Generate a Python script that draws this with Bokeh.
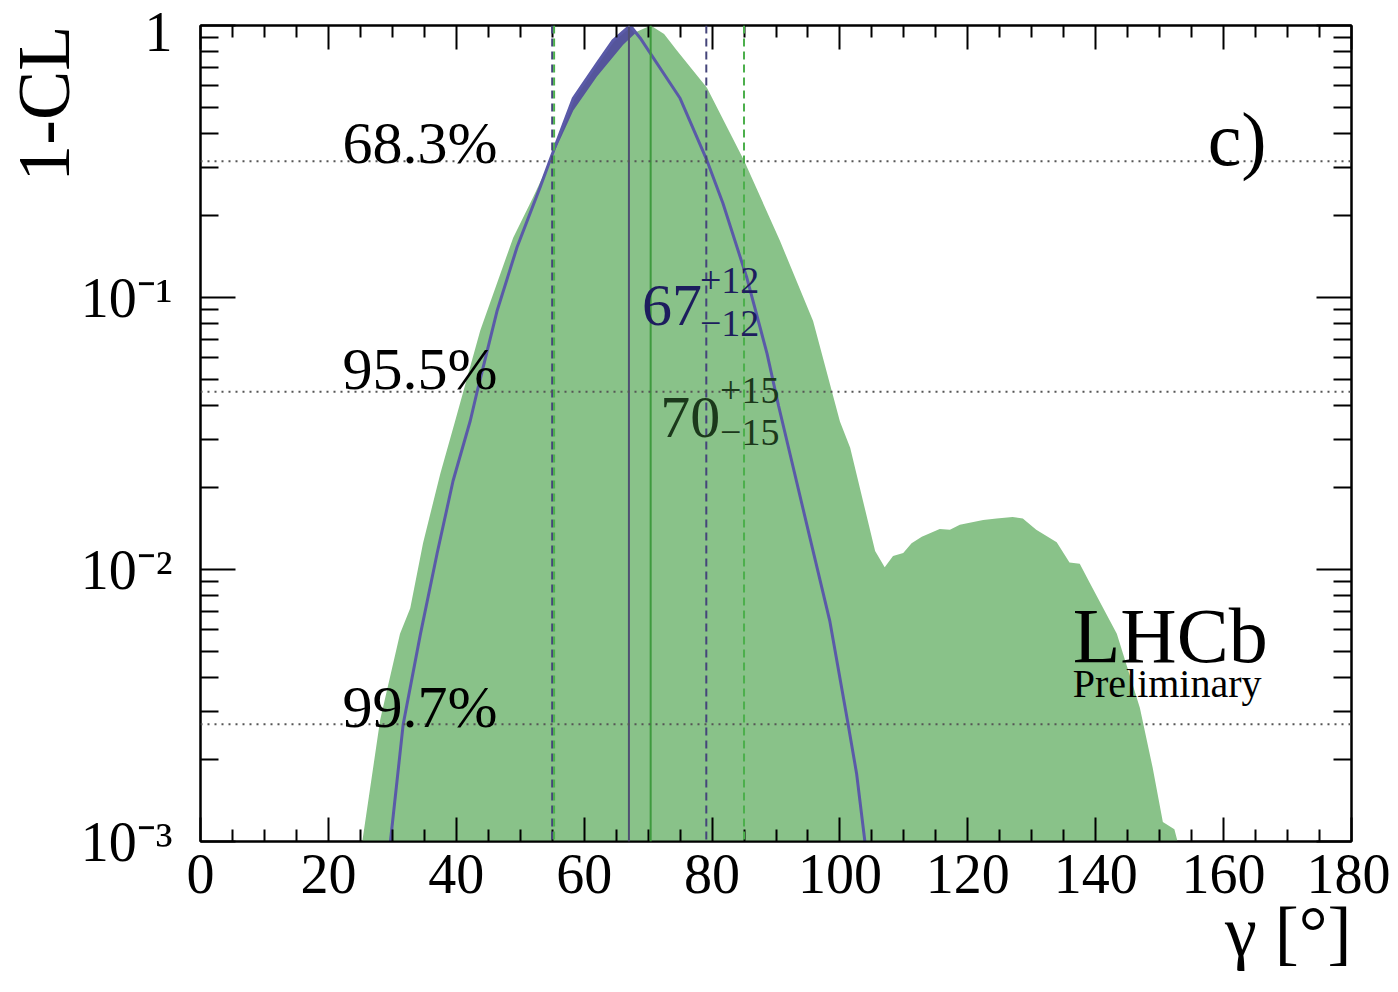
import math
from bokeh.plotting import figure
from bokeh.models import Range1d, FixedTicker, LinearAxis, LogAxis, Label, Span, Title
from bokeh.embed import file_html
from bokeh.resources import INLINE

# ---------------- data ----------------
green_x = [25.3, 28.1, 31.2, 32.8, 34.8, 37.5, 39.8, 43.75, 48.9, 52.0, 55.2, 58.3,
           62.0, 66.1, 68.3, 70.4, 72.5, 74.5, 79.2, 85.0, 90.6, 95.8, 100.0, 101.6,
           103.6, 105.5, 107.0, 108.3, 109.9, 111.2, 112.8, 115.6, 117.2, 118.75,
           122.4, 124.5, 127.0, 128.6, 130.7, 133.9, 135.9, 137.5, 139.1, 143.3,
           146.9, 148.9, 150.5, 152.3, 152.8]
green_y = [0.001, 0.0028, 0.0058, 0.0072, 0.0125, 0.0225, 0.035, 0.0756, 0.166, 0.233,
           0.338, 0.487, 0.65, 0.85, 0.95, 1.0, 0.93, 0.81, 0.59, 0.319, 0.162, 0.082,
           0.035, 0.028, 0.0179, 0.0117, 0.0102, 0.0112, 0.0115, 0.0125, 0.0132,
           0.0141, 0.0140, 0.0146, 0.0152, 0.0154, 0.0156, 0.0154, 0.0140, 0.0126,
           0.0106, 0.0105, 0.0089, 0.0058, 0.0031, 0.00187, 0.00118, 0.00111, 0.001]

blue_x = [29.7, 31.7, 34.4, 37.0, 39.5, 42.2, 43.3, 46.4, 49.5, 53.1, 55.8, 58.3, 62.0,
          64.5, 67.2, 68.75, 75.0, 79.2, 81.7, 85.4, 88.6, 90.4, 95.3, 98.4, 101.25,
          102.6, 103.9]
blue_y = [0.001, 0.0027, 0.0058, 0.01145, 0.0212, 0.0353, 0.0455, 0.0896, 0.153, 0.254,
          0.378, 0.54, 0.725, 0.88, 1.0, 0.90, 0.54, 0.319, 0.222, 0.119, 0.0622, 0.040,
          0.0131, 0.00649, 0.00272, 0.00178, 0.001]

cl_levels = [0.317, 0.045, 0.0027]
cl_labels = ["68.3%", "95.5%", "99.7%"]

blue_central = 67.0
blue_interval = [55.0, 79.1]
green_central = 70.4
green_interval = [55.3, 85.0]

x_ticks = list(range(0, 181, 20))
x_minor = [v for v in range(0, 181, 5) if v % 20]
y_ticks = [0.001, 0.01, 0.1, 1.0]
y_tick_labels = {0.001: "10\u207b\u00b3", 0.01: "10\u207b\u00b2", 0.1: "10\u207b\u00b9", 1.0: "1"}
y_minor = [m * 10.0 ** e for e in (-3, -2, -1) for m in range(2, 10)]
y_min, y_max = 0.001, 1.0

FONT = "Liberation Serif"
GREEN_FILL = "#89c289"
BLUE_FILL = "#55559b"
BLUE_LINE = "#5a5aa8"

p = figure(frame_width=1151, frame_height=816,
           x_range=Range1d(0, 180), y_range=Range1d(y_min, y_max),
           y_axis_type="log", output_backend="svg", toolbar_location=None,
           min_border_left=200, min_border_right=39, min_border_top=25,
           min_border_bottom=143)
p.grid.visible = False
p.outline_line_color = "black"
p.outline_line_width = 2
p.background_fill_color = "white"
p.border_fill_color = "white"


def style(ax, major, minor):
    ax.axis_line_width = 2
    ax.axis_line_color = "black"
    ax.major_tick_line_width = 2
    ax.minor_tick_line_width = 2
    ax.major_tick_line_color = "black"
    ax.minor_tick_line_color = "black"
    ax.major_tick_in = major
    ax.major_tick_out = 0
    ax.minor_tick_in = minor
    ax.minor_tick_out = 0
    ax.major_label_text_font = FONT
    ax.major_label_text_font_size = "56px"
    ax.major_label_text_color = "black"


xb = p.xaxis[0]
xb.ticker = FixedTicker(ticks=x_ticks, minor_ticks=x_minor)
style(xb, 24, 12)
xb.major_label_standoff = 13

yl = p.yaxis[0]
yl.ticker = FixedTicker(ticks=y_ticks, minor_ticks=y_minor)
style(yl, 35, 18)
yl.major_label_overrides = y_tick_labels
yl.major_label_standoff = 28

top = LinearAxis(ticker=FixedTicker(ticks=x_ticks, minor_ticks=x_minor))
style(top, 24, 12)
top.major_label_overrides = {t: "" for t in x_ticks}
top.major_label_text_font_size = "1px"
p.add_layout(top, "above")

right = LogAxis(ticker=FixedTicker(ticks=y_ticks, minor_ticks=y_minor))
style(right, 35, 18)
right.major_label_overrides = {t: "" for t in y_ticks}
right.major_label_text_font_size = "1px"
p.add_layout(right, "right")

# axis titles, ROOT style (aligned to the far end of each axis)
p.add_layout(Title(text="1-CL", align="right", text_font=FONT, text_font_size="74px",
                   text_font_style="normal", text_color="black", standoff=-14), "left")
p.add_layout(Title(text="\u03b3 [\u00b0]", align="right", text_font=FONT, text_font_size="72px",
                   text_font_style="normal", text_color="black", standoff=-12), "below")

# ---------------- curves ----------------
p.varea(x=blue_x, y1=y_min, y2=blue_y, fill_color=BLUE_FILL)
p.varea(x=green_x, y1=y_min, y2=green_y, fill_color=GREEN_FILL)

# vertical lines: central values and 1 sigma intervals
p.add_layout(Span(location=blue_central, dimension="height", line_color="#4f4f72", line_width=2))
p.add_layout(Span(location=green_central, dimension="height", line_color="#3e9a3e", line_width=2))
for b in blue_interval:
    p.add_layout(Span(location=b, dimension="height", line_color="#45457a", line_width=2, line_dash="8 5"))
for g in green_interval:
    p.add_layout(Span(location=g, dimension="height", line_color="#4caf4c", line_width=2, line_dash="8 5"))

for lvl in cl_levels:
    p.add_layout(Span(location=lvl, dimension="width", line_color="#555555", line_width=2, line_dash="2 5"))

p.line(blue_x, blue_y, line_color=BLUE_LINE, line_width=3)

# ---------------- texts ----------------
def lab(x, y, text, size, color="black", align="left", angle=0.0):
    p.add_layout(Label(x=x, y=y, text=text, text_font=FONT, text_font_size=size,
                       text_color=color, text_align=align, text_baseline="alphabetic",
                       angle=angle))

cl_text_y = [0.371, 0.0548, 0.00311]
for t, yy in zip(cl_labels, cl_text_y):
    lab(22.2, yy, t, "60px")

lab(157.5, 0.384, "c)", "76px")
lab(136.4, 0.00572, "LHCb", "78px")
lab(136.4, 0.00381, "Preliminary", "40px")

NAVY_TXT = "#1d1d5e"
GREEN_TXT = "#1b381b"
lab(69.06, 0.0935, "67", "60px", NAVY_TXT)
lab(78.1, 0.1155, "+12", "38px", NAVY_TXT)
lab(78.1, 0.0802, "\u221212", "38px", NAVY_TXT)
lab(71.9, 0.0362, "70", "60px", GREEN_TXT)
lab(81.25, 0.0455, "+15", "38px", GREEN_TXT)
lab(81.25, 0.0319, "\u221215", "38px", GREEN_TXT)

open("out.html", "w").write(file_html(p, INLINE))
